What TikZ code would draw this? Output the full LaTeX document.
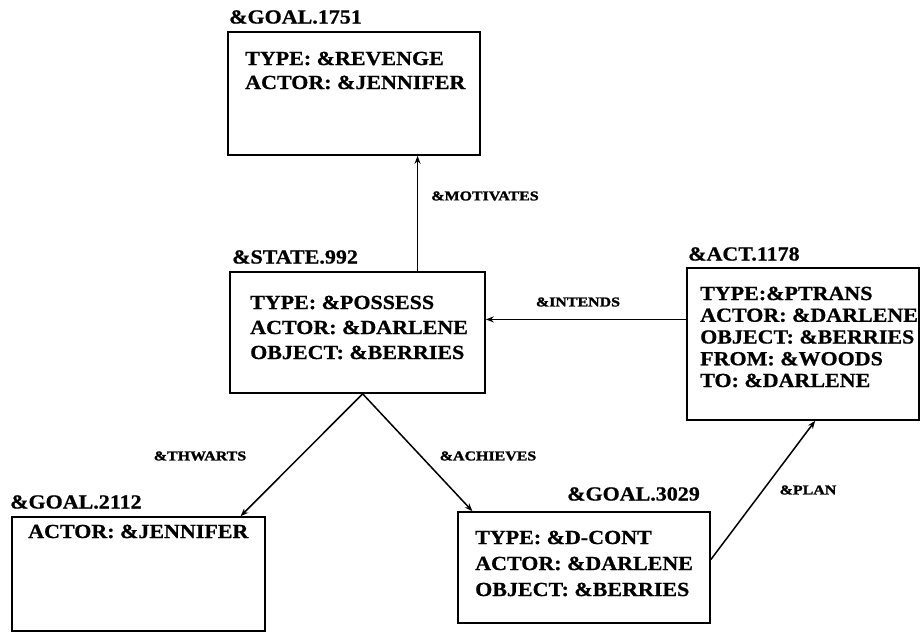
\documentclass[tikz,border=0pt]{standalone}
\usepackage{fontspec}
\setmainfont{Liberation Serif}
\newfontfamily\framefont{Liberation Serif}[FakeStretch=1.1,FakeBold=0.8]
\newfontfamily\linkfont{Liberation Serif}[FakeStretch=1.18,FakeBold=1.6]
\usetikzlibrary{arrows.meta,calc}
\begin{document}
\begin{tikzpicture}[x=1pt,y=-1pt,
  frame/.style={draw,line width=1.6pt,rectangle,inner sep=0pt},
  slots/.style={anchor=north west,inner sep=0pt,align=left},
  title/.style={anchor=west,inner sep=0pt,font=\framefont\bfseries\fontsize{20}{24}\selectfont},
  link/.style={inner sep=0pt,font=\linkfont\bfseries\fontsize{13.5}{15}\selectfont},
  arr/.style={line width=1.5pt,-{Stealth[length=8pt,width=6pt]}}]
\useasboundingbox (0,0) rectangle (921,635);

% frames
\node[frame,minimum width=252pt,minimum height=123pt] (goalA) at (354,93.5) {};
\node[frame,minimum width=255pt,minimum height=121pt] (state) at (357.5,332.5) {};
\node[frame,minimum width=232pt,minimum height=152pt] (act) at (803,344) {};
\node[frame,minimum width=253pt,minimum height=114pt] (goalB) at (138.5,574) {};
\node[frame,minimum width=252pt,minimum height=111pt] (goalC) at (584,567.5) {};

% frame titles
\node[title] (tGoalA) at (229,17) {\&GOAL.1751};
\node[title] (tState) at (232,257) {\&STATE.992};
\node[title] (tAct) at (688,254) {\&ACT.1178};
\node[title] (tGoalB) at (10,502) {\&GOAL.2112};
\node[title] (tGoalC) at (567,494) {\&GOAL.3029};

% slot fillers
\node[slots,font=\framefont\bfseries\fontsize{20}{24}\selectfont] (sGoalA) at (245,51.5)
  {TYPE: \&REVENGE\\ACTOR: \&JENNIFER};
\node[slots,font=\framefont\bfseries\fontsize{20}{25}\selectfont] (sState) at (250,295.5)
  {TYPE: \&POSSESS\\ACTOR: \&DARLENE\\OBJECT: \&BERRIES};
\node[slots,font=\framefont\bfseries\fontsize{20}{21.75}\selectfont] (sAct) at (700,286.5)
  {TYPE:\&PTRANS\\ACTOR: \&DARLENE\\OBJECT: \&BERRIES\\FROM: \&WOODS\\TO: \&DARLENE};
\node[slots,font=\framefont\bfseries\fontsize{20}{24}\selectfont] (sGoalB) at (28,524.5)
  {ACTOR: \&JENNIFER};
\node[slots,font=\framefont\bfseries\fontsize{20}{26}\selectfont] (sGoalC) at (475,530.5)
  {TYPE: \&D-CONT\\ACTOR: \&DARLENE\\OBJECT: \&BERRIES};

% links
\draw[arr] ($(state.north west)!0.734!(state.north east)$) coordinate (mFrom)
  -- (mFrom |- goalA.south);
\draw[arr] ($(act.north west)!0.34!(act.south west)$) coordinate (iFrom)
  -- (iFrom -| state.east);
\draw[arr] ($(state.south west)!0.52!(state.south east)$)
  -- ($(goalB.north west)!0.901!(goalB.north east)$);
\draw[arr] ($(state.south west)!0.52!(state.south east)$)
  -- ($(goalC.north west)!0.06!(goalC.north east)$);
\draw[arr] ($(goalC.north east)!0.43!(goalC.south east)$)
  -- ($(act.south west)!0.552!(act.south east)$);

% link labels
\node[link] (lMot) at (485,196) {\&MOTIVATES};
\node[link] (lInt) at (578,302) {\&INTENDS};
\node[link] (lThw) at (200,456) {\&THWARTS};
\node[link] (lAch) at (488,456) {\&ACHIEVES};
\node[link] (lPlan) at (808,490) {\&PLAN};
\end{tikzpicture}
\end{document}
